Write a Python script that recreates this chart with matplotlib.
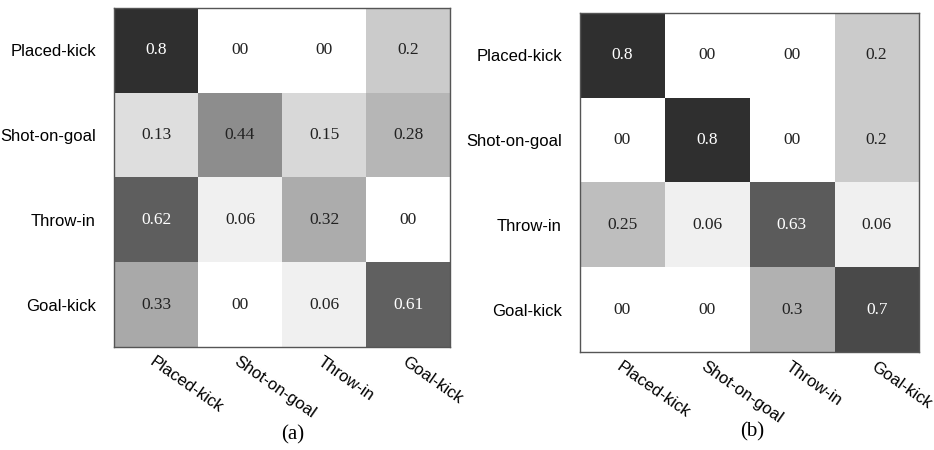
import numpy as np
import matplotlib
matplotlib.use("Agg")
import matplotlib.pyplot as plt
from matplotlib.colors import LinearSegmentedColormap

classes = ["Placed-kick", "Shot-on-goal", "Throw-in", "Goal-kick"]

matrix_a = [
    [0.80, 0.00, 0.00, 0.20],
    [0.13, 0.44, 0.15, 0.28],
    [0.62, 0.06, 0.32, 0.00],
    [0.33, 0.00, 0.06, 0.61],
]
labels_a = [
    ["0.8", "00", "00", "0.2"],
    ["0.13", "0.44", "0.15", "0.28"],
    ["0.62", "0.06", "0.32", "00"],
    ["0.33", "00", "0.06", "0.61"],
]

matrix_b = [
    [0.80, 0.00, 0.00, 0.20],
    [0.00, 0.80, 0.00, 0.20],
    [0.25, 0.06, 0.63, 0.06],
    [0.00, 0.00, 0.30, 0.70],
]
labels_b = [
    ["0.8", "00", "00", "0.2"],
    ["00", "0.8", "00", "0.2"],
    ["0.25", "0.06", "0.63", "0.06"],
    ["00", "00", "0.3", "0.7"],
]

captions = ["(a)", "(b)"]

cmap = LinearSegmentedColormap.from_list("wb", ["#ffffff", "#000000"])

fig = plt.figure(figsize=(9.34, 4.5), dpi=100)
positions = [
    [114 / 934, (450 - 347) / 450, 336 / 934, 339 / 450],
    [580 / 934, (450 - 352) / 450, 339 / 934, 339 / 450],
]
caption_xy = [(293 / 934, 1 - 435 / 450), (752 / 934, 1 - 432 / 450)]

for k, (mat, lab) in enumerate([(matrix_a, labels_a), (matrix_b, labels_b)]):
    ax = fig.add_axes(positions[k])
    m = np.array(mat)
    ax.imshow(m, cmap=cmap, vmin=0, vmax=0.98, aspect="auto", interpolation="nearest")
    for i in range(m.shape[0]):
        for j in range(m.shape[1]):
            ax.text(j, i, lab[i][j], ha="center", va="center",
                    family="Liberation Serif", fontsize=12.5,
                    color="white" if m[i, j] > 0.5 else "#222222")
    ax.set_xticks(range(len(classes)))
    ax.set_yticks(range(len(classes)))
    ax.set_xticklabels(classes, rotation=-35, ha="left", va="top",
                       rotation_mode="anchor", family="Liberation Sans", fontsize=12)
    ax.set_yticklabels(classes, family="Liberation Sans", fontsize=12)
    ax.tick_params(axis="both", length=0)
    ax.tick_params(axis="y", pad=13)
    ax.tick_params(axis="x", pad=5)
    for s in ax.spines.values():
        s.set_color("#555555")
        s.set_linewidth(1.0)
    fig.text(caption_xy[k][0], caption_xy[k][1], captions[k], ha="center", va="center",
             family="Liberation Serif", fontsize=15)

fig.savefig("out.png", dpi=100, facecolor="white")
